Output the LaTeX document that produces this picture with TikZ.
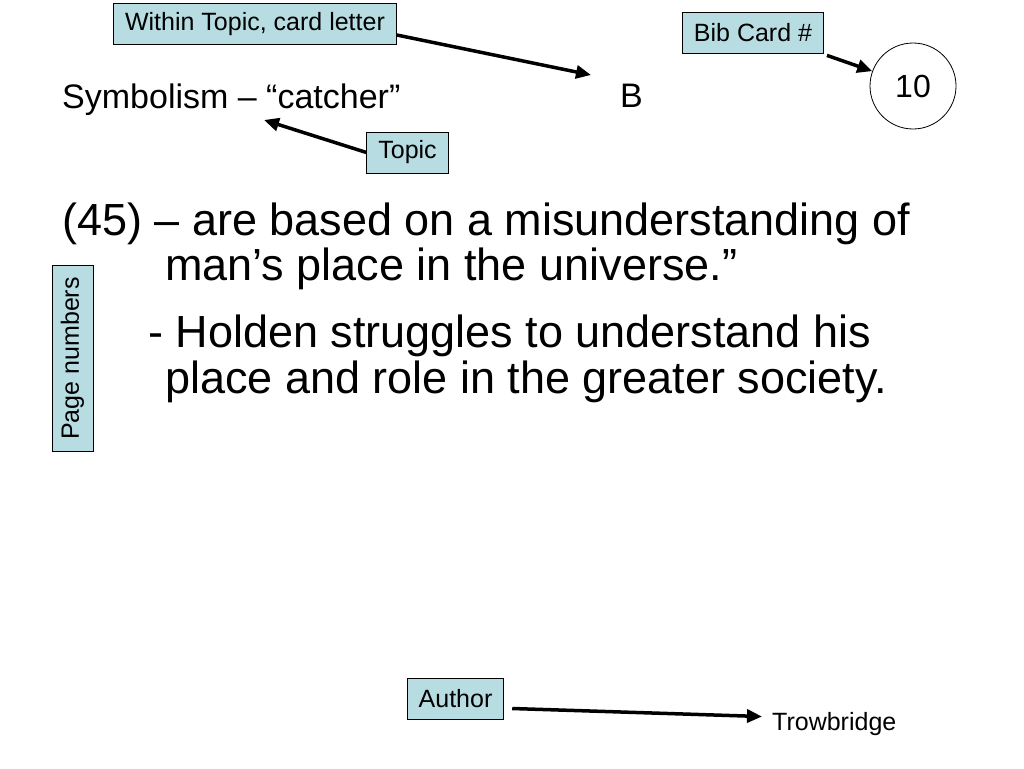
\documentclass[tikz,border=0pt]{standalone}
\usepackage{fontspec}
\setmainfont{Liberation Sans}
\usetikzlibrary{arrows.meta}
\definecolor{tagblue}{RGB}{183,221,227}
\newcommand{\px}[1]{\fontsize{#1}{#1}\selectfont}
\begin{document}
\begin{tikzpicture}[x=1pt,y=-1pt,
    tag/.style={draw,line width=0.8pt,fill=tagblue,inner xsep=11.5pt,minimum height=41pt,font=\px{25}},
    pointer/.style={-{Triangle[length=15pt,width=13pt]},line width=3.5pt}]
                \useasboundingbox (0,0) rectangle (1024,768);
                \node[tag] (within) at (255,24) {Within Topic, card letter};
                \node[tag] (bib) at (753,32.5) {Bib Card \#};
                \node[tag] (topic) at (407.5,152.5) {Topic};
                \node[tag] (author) at (455.5,698.5) {Author};
                \node[tag,rotate=90] (pages) at (72.5,358.5) {Page numbers};
                \node[draw,circle,line width=0.8pt,minimum size=86pt,font=\px{32}] (num) at (913,86) {10};
                \node[anchor=base west,inner sep=0pt,font=\px{34}] (subject) at (62,108) {Symbolism – “catcher”};
                \node[anchor=base west,inner sep=0pt,font=\px{34}] (letter) at (620,107) {B};
                \node[anchor=base west,inner sep=0pt,font=\px{45}] (line1) at (62,235) {(45) – are based on a misunderstanding of};
                \node[anchor=base west,inner sep=0pt,font=\px{45}] (line2) at (165,280) {man’s place in the universe.”};
                \node[anchor=base west,inner sep=0pt,font=\px{45}] (line3) at (148,347) {- Holden struggles to understand his};
                \node[anchor=base west,inner sep=0pt,font=\px{45}] (line4) at (165,393) {place and role in the greater society.};
                \node[anchor=base west,inner sep=0pt,font=\px{25}] (trow) at (772,730) {Trowbridge};
                \coordinate (cardTip) at (591,75);
                \coordinate (topicTip) at (264,120);
                \draw[pointer] ([yshift=-11pt]within.east) -- (cardTip);
                \draw[pointer] (topic.west) -- (topicTip);
                \draw[pointer] ([shift={(3pt,-2pt)}]bib.south east) -- (num.160);
                \draw[pointer] ([shift={(8pt,-10pt)}]author.east) -- ([shift={(-10pt,7pt)}]trow.west);
\end{tikzpicture}
\end{document}
